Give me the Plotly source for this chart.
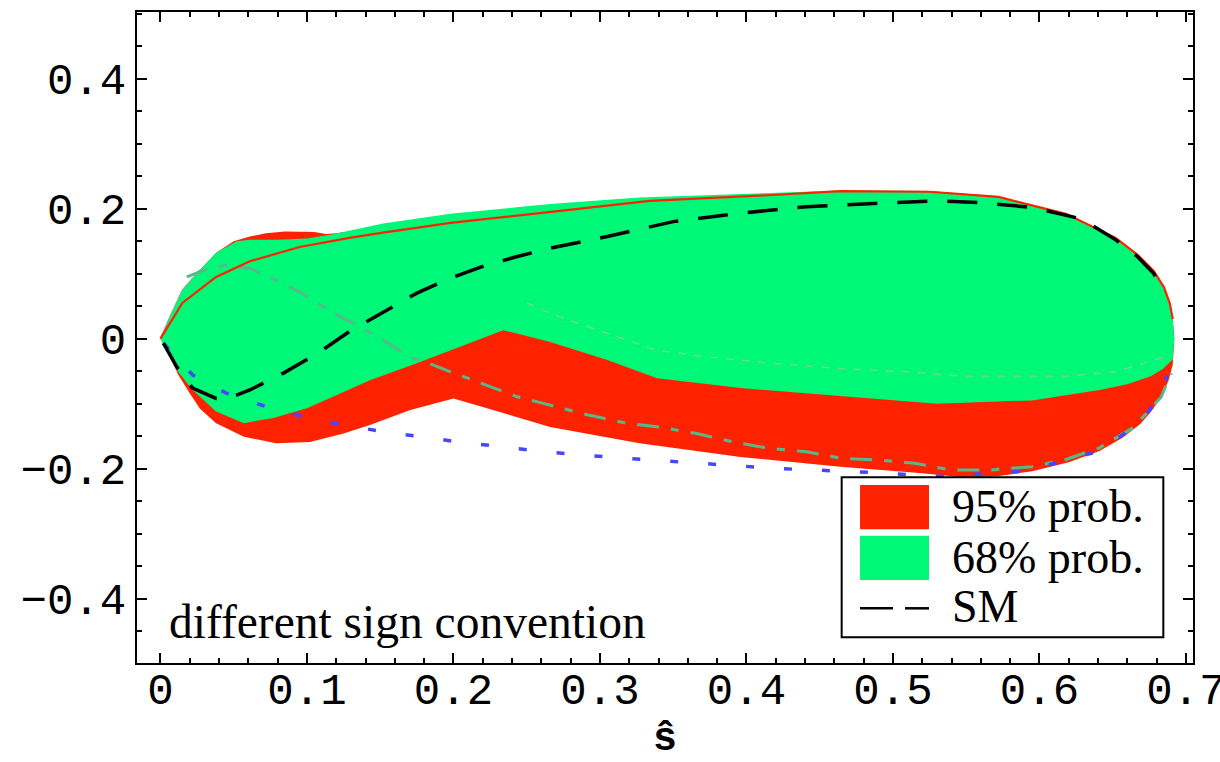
import plotly.graph_objects as go

# ---------------- data ----------------
red_x = [0, 0.0065, 0.015, 0.027, 0.038, 0.05, 0.061, 0.072, 0.085, 0.095, 0.105, 0.113, 0.12,
         0.152, 0.198, 0.266, 0.396, 0.525, 0.618, 0.667, 0.685, 0.691, 0.692, 0.691, 0.688,
         0.683, 0.676, 0.669, 0.657, 0.641, 0.62, 0.595, 0.57, 0.545, 0.52, 0.464, 0.396,
         0.327, 0.266, 0.22, 0.2, 0.17, 0.143, 0.125, 0.102, 0.079, 0.057, 0.038, 0.027,
         0.020, 0.012, 0.005, 0]
red_y = [0, 0.034, 0.075, 0.106, 0.132, 0.150, 0.157, 0.162, 0.165, 0.165, 0.164, 0.161, 0.162,
         0.172, 0.187, 0.202, 0.218, 0.221, 0.19, 0.128, 0.078, 0.03, 0.0, -0.04, -0.065,
         -0.09, -0.113, -0.131, -0.152, -0.173, -0.19, -0.204, -0.212, -0.213, -0.207, -0.197, -0.182,
         -0.161, -0.136, -0.105, -0.092, -0.110, -0.133, -0.146, -0.159, -0.161, -0.151, -0.130, -0.108,
         -0.084, -0.055, -0.02, 0]

green_x = [0, 0.0065, 0.015, 0.027, 0.038, 0.052, 0.061, 0.08, 0.1, 0.116, 0.152, 0.198, 0.243,
           0.266, 0.327, 0.396, 0.464, 0.525, 0.572, 0.618, 0.652, 0.667, 0.678, 0.685, 0.689,
           0.691, 0.692, 0.691, 0.684, 0.676, 0.66, 0.641, 0.595, 0.53, 0.464, 0.396, 0.339,
           0.305, 0.266, 0.234, 0.175, 0.143, 0.122, 0.1, 0.077, 0.057, 0.038, 0.022, 0.011,
           0.004, 0]
green_y = [0, 0.034, 0.075, 0.106, 0.132, 0.150, 0.152, 0.152, 0.154, 0.160, 0.177, 0.192, 0.202,
           0.207, 0.217, 0.223, 0.228, 0.227, 0.219, 0.193, 0.156, 0.130, 0.105, 0.080, 0.055,
           0.03, 0.0, -0.032, -0.047, -0.058, -0.070, -0.079, -0.095, -0.100, -0.088, -0.076, -0.061,
           -0.033, -0.005, 0.013, -0.038, -0.064, -0.085, -0.107, -0.122, -0.130, -0.112, -0.079, -0.048,
           -0.016, 0]

redline_x = [0, 0.015, 0.038, 0.061, 0.095, 0.129, 0.152, 0.198, 0.259, 0.334, 0.418, 0.464,
             0.525, 0.572, 0.618, 0.652, 0.667, 0.678, 0.685, 0.689, 0.691]
redline_y = [0, 0.055, 0.095, 0.119, 0.141, 0.155, 0.163, 0.178, 0.193, 0.212, 0.221, 0.227,
             0.226, 0.218, 0.192, 0.155, 0.129, 0.104, 0.079, 0.054, 0.03]

sm_x = [0.002, 0.011, 0.022, 0.038, 0.045, 0.061, 0.084, 0.107, 0.129, 0.152, 0.175, 0.198,
        0.220, 0.243, 0.266, 0.305, 0.350, 0.396, 0.441, 0.487, 0.532, 0.560, 0.595, 0.629,
        0.652, 0.667, 0.678, 0.684]
sm_y = [-0.007, -0.043, -0.076, -0.092, -0.093, -0.079, -0.053, -0.023, 0.011, 0.041, 0.070, 0.093,
        0.111, 0.126, 0.139, 0.157, 0.180, 0.193, 0.203, 0.208, 0.212, 0.209, 0.202, 0.184,
        0.152, 0.126, 0.1, 0.075]

blue_x = [0.002, 0.022, 0.045, 0.0725, 0.0975, 0.125, 0.152, 0.179, 0.207, 0.232, 0.261, 0.316,
          0.368, 0.423, 0.477, 0.535, 0.590, 0.641, 0.665, 0.683, 0.687]
blue_y = [-0.007, -0.056, -0.084, -0.105, -0.120, -0.133, -0.143, -0.152, -0.160, -0.166, -0.174, -0.184,
          -0.192, -0.200, -0.205, -0.212, -0.204, -0.173, -0.135, -0.090, -0.058]

dd_x = [0.018, 0.034, 0.045, 0.061, 0.079, 0.095, 0.109, 0.125, 0.138, 0.152, 0.170,
        0.182, 0.198, 0.216, 0.243, 0.262, 0.293, 0.318, 0.341, 0.366, 0.391, 0.416, 0.441,
        0.464, 0.491, 0.516, 0.539, 0.567, 0.595, 0.618, 0.641, 0.664, 0.683, 0.690]
dd_y = [0.095, 0.109, 0.113, 0.108, 0.090, 0.072, 0.052, 0.031, 0.016, -0.002, -0.028,
        -0.037, -0.051, -0.066, -0.089, -0.100, -0.118, -0.130, -0.136, -0.146, -0.159, -0.169, -0.174,
        -0.184, -0.187, -0.192, -0.202, -0.202, -0.197, -0.186, -0.168, -0.137, -0.090, -0.053]

edge_x = [0, 0.0065, 0.015, 0.027]
edge_y = [0, 0.034, 0.075, 0.106]

faint_x = [0.25, 0.266, 0.305, 0.339, 0.373, 0.418, 0.464, 0.509, 0.548, 0.618, 0.652, 0.687]
faint_y = [0.055, 0.039, 0.008, -0.018, -0.028, -0.038, -0.046, -0.051, -0.058, -0.058, -0.051, -0.027]

x_ticks = [0, 0.1, 0.2, 0.3, 0.4, 0.5, 0.6, 0.7]
x_ticktext = ["0", "0.1", "0.2", "0.3", "0.4", "0.5", "0.6", "0.7"]
y_ticks = [-0.4, -0.2, 0, 0.2, 0.4]
y_ticktext = ["\u22120.4", "\u22120.2", "0", "0.2", "0.4"]

legend_labels = ["95% prob.", "68% prob.", "SM"]

RED = "#FF2200"
GREEN = "#00F878"
GRAYGREEN = "#55B98A"

fig = go.Figure()
fig.add_trace(go.Scatter(x=red_x, y=red_y, mode="lines", fill="toself", fillcolor=RED,
                         line=dict(width=0, color=RED), name=legend_labels[0], showlegend=False,
                         hoverinfo="skip"))
fig.add_trace(go.Scatter(x=green_x, y=green_y, mode="lines", fill="toself", fillcolor=GREEN,
                         line=dict(width=0, color=GREEN), name=legend_labels[1], showlegend=False,
                         hoverinfo="skip"))
fig.add_trace(go.Scatter(x=faint_x, y=faint_y, mode="lines",
                         line=dict(width=1.5, color="rgba(120,215,150,0.9)", dash="8px,8px"),
                         showlegend=False, hoverinfo="skip"))
fig.add_trace(go.Scatter(x=edge_x, y=edge_y, mode="lines",
                         line=dict(width=1.5, color="rgba(110,190,140,0.8)"),
                         showlegend=False, hoverinfo="skip"))
fig.add_trace(go.Scatter(x=dd_x, y=dd_y, mode="lines",
                         line=dict(width=3, color=GRAYGREEN, dash="22px,12px,8px,12px"),
                         showlegend=False, hoverinfo="skip"))
fig.add_trace(go.Scatter(x=redline_x, y=redline_y, mode="lines",
                         line=dict(width=2.2, color=RED), showlegend=False, hoverinfo="skip"))
fig.add_trace(go.Scatter(x=blue_x, y=blue_y, mode="lines",
                         line=dict(width=3.5, color="#4646FF", dash="8px,30px"),
                         showlegend=False, hoverinfo="skip"))
fig.add_trace(go.Scatter(x=sm_x, y=sm_y, mode="lines",
                         line=dict(width=3.5, color="black", dash="30px,20px"),
                         name=legend_labels[2], showlegend=False, hoverinfo="skip"))

tickfont = dict(family="Liberation Mono", size=44, color="black")
axis_common = dict(showgrid=False, zeroline=False, showline=True, linecolor="black", linewidth=2,
                   mirror="allticks", ticks="inside", ticklen=10, tickwidth=1.5, tickcolor="black",
                   tickfont=tickfont, ticklabeloverflow="allow", automargin=False)

fig.update_xaxes(range=[-0.016, 0.7048], tickmode="array", tickvals=x_ticks, ticktext=x_ticktext,
                 ticklabelstandoff=-14,
                 minor=dict(dtick=0.02, tick0=0, ticks="inside", ticklen=5, tickwidth=1.5,
                            tickcolor="black", showgrid=False),
                 **axis_common)
fig.update_yaxes(range=[-0.499, 0.5025], tickmode="array", tickvals=y_ticks, ticktext=y_ticktext,
                 minor=dict(dtick=0.05, tick0=0, ticks="inside", ticklen=5, tickwidth=1.5,
                            tickcolor="black", showgrid=False),
                 **axis_common)

serif = dict(family="Liberation Serif", size=46, color="black")

shapes = [
    # legend frame
    dict(type="rect", xref="paper", yref="paper", x0=0.6673, x1=0.9719, y0=0.0395, y1=0.2853,
         line=dict(color="black", width=2), fillcolor="white", layer="above"),
    dict(type="rect", xref="paper", yref="paper", x0=0.6847, x1=0.75, y0=0.2054, y1=0.2734,
         line=dict(width=0), fillcolor=RED, layer="above"),
    dict(type="rect", xref="paper", yref="paper", x0=0.6847, x1=0.75, y0=0.1275, y1=0.1955,
         line=dict(width=0), fillcolor=GREEN, layer="above"),
    dict(type="line", xref="paper", yref="paper", x0=0.6847, x1=0.7159, y0=0.084, y1=0.084,
         line=dict(color="black", width=2.5), layer="above"),
    dict(type="line", xref="paper", yref="paper", x0=0.7273, x1=0.75, y0=0.084, y1=0.084,
         line=dict(color="black", width=2.5), layer="above"),
]

annotations = [
    dict(text=legend_labels[0], xref="paper", yref="paper", x=0.7699, y=0.2401, xanchor="left",
         yanchor="middle", showarrow=False, font=serif),
    dict(text=legend_labels[1], xref="paper", yref="paper", x=0.7699, y=0.1628, xanchor="left",
         yanchor="middle", showarrow=False, font=serif),
    dict(text=legend_labels[2], xref="paper", yref="paper", x=0.7699, y=0.0865, xanchor="left",
         yanchor="middle", showarrow=False, font=serif),
    dict(text="different sign convention", xref="paper", yref="paper", x=0.0284, y=0.063,
         xanchor="left", yanchor="middle", showarrow=False,
         font=dict(family="Liberation Serif", size=47.5, color="black")),
    dict(text="\u015d", xref="paper", yref="paper", x=0.5, y=-0.118, xanchor="center",
         yanchor="middle", showarrow=False,
         font=dict(family="Liberation Mono", size=40, color="black", weight="bold")),
]

fig.update_layout(width=1220, height=762,
                  margin=dict(l=137, r=27, t=12, b=99, autoexpand=False),
                  paper_bgcolor="white", plot_bgcolor="white", showlegend=False,
                  shapes=shapes, annotations=annotations)

fig.write_html("out.html")
